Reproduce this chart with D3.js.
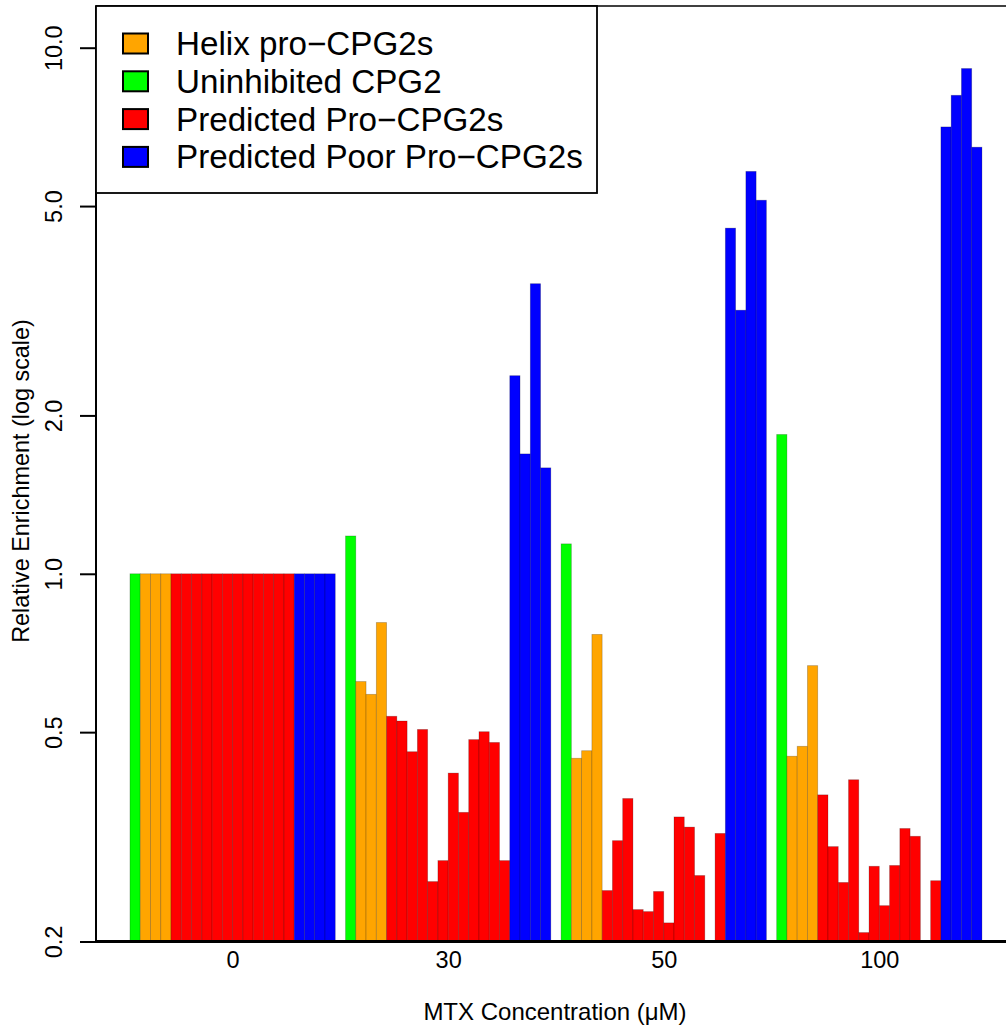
<!DOCTYPE html>
<html>
<head>
<meta charset="utf-8">
<script src="https://cdn.jsdelivr.net/npm/d3@7"></script>
<style>
  html, body { margin: 0; padding: 0; background: #fff; }
  svg { display: block; font-family: "Liberation Sans", Arial, Helvetica, sans-serif; }
</style>
</head>
<body>
<svg id="chart" width="1006" height="1027"></svg>
<script>
// ---- data ----
const concentrations = ["0", "30", "50", "100"];
const seriesNames = ["Helix pro\u2212CPG2s", "Uninhibited CPG2", "Predicted Pro\u2212CPG2s", "Predicted Poor Pro\u2212CPG2s"];
const seriesColors = ["#FFA500", "#00FF00", "#FF0000", "#0000FF"];

const uninhibited = [1.0, 1.18, 1.14, 1.84];
const helix = [
  [1.0, 1.0, 1.0],
  [0.624, 0.590, 0.808],
  [0.446, 0.461, 0.767],
  [0.450, 0.470, 0.669]
];
const predicted = [
  [1.0, 1.0, 1.0, 1.0, 1.0, 1.0, 1.0, 1.0, 1.0, 1.0, 1.0, 1.0],
  [0.536, 0.525, 0.459, 0.506, 0.260, 0.285, 0.418, 0.352, 0.484, 0.501, 0.478, 0.285],
  [0.250, 0.311, 0.374, 0.230, 0.228, 0.249, 0.217, 0.345, 0.330, 0.267, null, 0.321],
  [0.380, 0.303, 0.259, 0.406, 0.208, 0.278, 0.234, 0.279, 0.328, 0.317, null, 0.261]
];
const poor = [
  [1.0, 1.0, 1.0, 1.0],
  [2.38, 1.69, 3.56, 1.59],
  [4.54, 3.17, 5.82, 5.13],
  [7.07, 8.12, 9.13, 6.47]
];
const yTicks = [0.2, 0.5, 1.0, 2.0, 5.0, 10.0];

// ---- build bar list: per group green, orange x3, red x12, blue x4 ----
const bars = [];
concentrations.forEach((c, g) => {
  const vals = [];
  vals.push({ v: uninhibited[g], s: 1 });
  helix[g].forEach(v => vals.push({ v, s: 0 }));
  predicted[g].forEach(v => vals.push({ v, s: 2 }));
  poor[g].forEach(v => vals.push({ v, s: 3 }));
  vals.forEach((d, i) => bars.push({ group: g, idx: i, value: d.v, series: d.s }));
});
const perGroup = 20;

// ---- layout ----
const svg = d3.select("#chart");
const axisLeftX = 96, topY = 6, bottomY = 941.5;

const x = d3.scaleLinear()
  .domain([0, concentrations.length * (perGroup + 1)])
  .range([119.7, 119.7 + 84 * 10.265]);
const groupStart = g => 1 + g * (perGroup + 1);

const y = d3.scaleLog().domain([0.2, 10]).range([bottomY, 47.7]);

// clip
svg.append("defs").append("clipPath").attr("id", "plotclip")
  .append("rect").attr("x", axisLeftX).attr("y", topY).attr("width", 1006 - axisLeftX).attr("height", bottomY - topY);

// bars
svg.append("g").attr("clip-path", "url(#plotclip)")
  .selectAll("rect")
  .data(bars.filter(d => d.value != null))
  .join("rect")
  .attr("x", d => x(groupStart(d.group) + d.idx))
  .attr("width", d => x(1) - x(0))
  .attr("y", d => y(d.value))
  .attr("height", d => bottomY - y(d.value))
  .attr("fill", d => seriesColors[d.series])
  .attr("stroke", "rgba(0,0,0,0.25)")
  .attr("stroke-width", 0.8);

// frame
svg.append("line").attr("x1", axisLeftX).attr("x2", 1006).attr("y1", topY).attr("y2", topY)
  .attr("stroke", "#000").attr("stroke-width", 1.6);
svg.append("line").attr("x1", axisLeftX).attr("x2", axisLeftX).attr("y1", topY).attr("y2", bottomY)
  .attr("stroke", "#000").attr("stroke-width", 2);
svg.append("line").attr("x1", axisLeftX - 1).attr("x2", 1006).attr("y1", bottomY).attr("y2", bottomY)
  .attr("stroke", "#000").attr("stroke-width", 2.8);

// y axis via d3.axisLeft
const yAxis = d3.axisLeft(y).tickValues(yTicks).tickFormat(d3.format(".1f")).tickSize(16).tickPadding(0);
const yg = svg.append("g").attr("transform", `translate(${axisLeftX},0)`).call(yAxis);
yg.select(".domain").remove();
yg.selectAll(".tick line").attr("stroke", "#000").attr("stroke-width", 2);
yg.selectAll(".tick text")
  .attr("x", null).attr("dy", null)
  .attr("text-anchor", "middle")
  .attr("transform", "translate(-34,0) rotate(-90)")
  .attr("font-size", 23.5)
  .attr("font-family", "Liberation Sans, Arial, sans-serif")
  .attr("fill", "#000");

// x axis labels via d3.axisBottom on an ordinal scale at group centres
const xTickScale = d3.scaleOrdinal().domain(concentrations)
  .range(concentrations.map((c, g) => x(groupStart(g) + perGroup / 2)));
const xAxis = d3.axisBottom(xTickScale).tickSize(0).tickPadding(0);
const xg = svg.append("g").attr("transform", `translate(0,${bottomY})`).call(xAxis);
xg.select(".domain").remove();
xg.selectAll(".tick text")
  .attr("y", 26.5).attr("dy", null)
  .attr("font-size", 23.5)
  .attr("font-family", "Liberation Sans, Arial, sans-serif")
  .attr("fill", "#000");

// axis titles
svg.append("text")
  .attr("x", 555).attr("y", 1020)
  .attr("text-anchor", "middle")
  .attr("font-size", 24)
  .text("MTX Concentration (\u03bcM)");
svg.append("text")
  .attr("transform", "translate(29,481) rotate(-90)")
  .attr("text-anchor", "middle")
  .attr("font-size", 23.4)
  .text("Relative Enrichment (log scale)");

// legend
const lg = svg.append("g");
lg.append("rect").attr("x", axisLeftX).attr("y", topY).attr("width", 597 - axisLeftX).attr("height", 193 - topY)
  .attr("fill", "#fff").attr("stroke", "#000").attr("stroke-width", 1.8);
const rowY = [43.5, 81.3, 119.1, 156.9];
seriesNames.forEach((name, i) => {
  lg.append("rect").attr("x", 123).attr("y", rowY[i] - 10).attr("width", 25).attr("height", 20)
    .attr("fill", seriesColors[i]).attr("stroke", "#000").attr("stroke-width", 2);
  lg.append("text").attr("x", 176).attr("y", rowY[i] + 11.5)
    .attr("font-size", 33.2).attr("fill", "#000").text(name);
});
</script>
</body>
</html>
